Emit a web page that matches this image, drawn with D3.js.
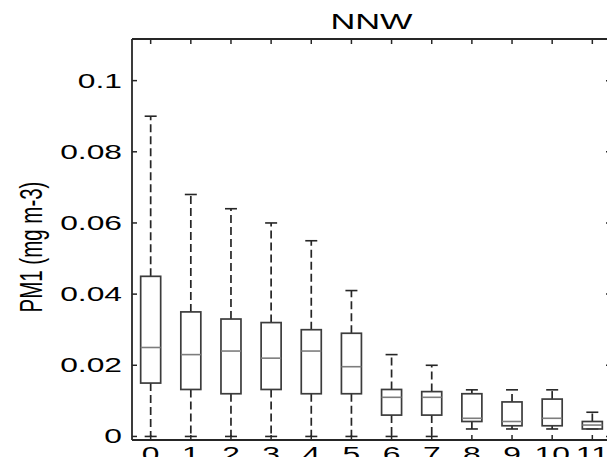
<!DOCTYPE html>
<html>
<head>
<meta charset="utf-8">
<script src="https://cdn.jsdelivr.net/npm/d3@7"></script>
<style>
  body { margin: 0; background: #fff; }
  svg { display: block; }
  text { font-family: "Liberation Sans", Arial, sans-serif; fill: #000; }
</style>
</head>
<body>
<svg id="chart" width="607" height="457"></svg>
<script>
// Box statistics per category (PM1, mg m-3)
var cats    = ["0","1","2","3","4","5","6","7","8","9","10","11"];
var upper   = [0.090, 0.068, 0.064, 0.060, 0.055, 0.041, 0.023, 0.020, 0.0131, 0.0131, 0.0131, 0.0068];
var q3      = [0.045, 0.035, 0.033, 0.032, 0.030, 0.029, 0.0132, 0.0126, 0.0120, 0.0097, 0.0105, 0.0042];
var median  = [0.025, 0.023, 0.024, 0.022, 0.024, 0.0196, 0.0110, 0.0110, 0.0051, 0.0042, 0.0051, 0.0032];
var q1      = [0.015, 0.0132, 0.0120, 0.0132, 0.0120, 0.0120, 0.0060, 0.0060, 0.0042, 0.0030, 0.0030, 0.0021];
var lower   = [0, 0, 0, 0, 0, 0, 0, 0, 0.0021, 0.0021, 0.0021, 0.0021];
var yTicks  = [0, 0.02, 0.04, 0.06, 0.08, 0.1];
var yTickLabels = ["0", "0.02", "0.04", "0.06", "0.08", "0.1"];

var svg = d3.select("#chart"),
  width = +svg.attr("width"),
  height = +svg.attr("height");

// axes box (right edge falls just outside the picture)
var axL = 132, axR = 611, axT = 39, axB = 440;
var sx = 1.55; // the original picture is stretched sideways
var fs = "20.5px";

var x = d3.scaleLinear().domain([-0.465, 11.465]).range([axL, axR]);
var y = d3.scaleLinear().domain([-0.0010, 0.1117]).range([axB, axT]);

var ink = "#262626";
var boxW = 20, capW = 12, tickLen = 5;

svg.append("rect").attr("width", width).attr("height", height).attr("fill", "#fff");

var g = svg.append("g");

cats.forEach(function(c, i) {
  var cx = x(i);
  // whiskers (dashed)
  g.append("line")
    .attr("x1", cx).attr("x2", cx)
    .attr("y1", y(q3[i])).attr("y2", y(upper[i]))
    .attr("stroke", ink).attr("stroke-width", 1.7)
    .attr("stroke-dasharray", "8,4");
  g.append("line")
    .attr("x1", cx).attr("x2", cx)
    .attr("y1", y(q1[i])).attr("y2", y(lower[i]))
    .attr("stroke", ink).attr("stroke-width", 1.7)
    .attr("stroke-dasharray", "8,4");
  // caps
  [upper[i], lower[i]].forEach(function(v) {
    g.append("line")
      .attr("x1", cx - capW / 2).attr("x2", cx + capW / 2)
      .attr("y1", y(v)).attr("y2", y(v))
      .attr("stroke", ink).attr("stroke-width", 1.6);
  });
  // box
  g.append("rect")
    .attr("x", cx - boxW / 2).attr("width", boxW)
    .attr("y", y(q3[i])).attr("height", y(q1[i]) - y(q3[i]))
    .attr("fill", "none").attr("stroke", "#3c3c3c").attr("stroke-width", 1.7);
  // median
  g.append("line")
    .attr("x1", cx - boxW / 2).attr("x2", cx + boxW / 2)
    .attr("y1", y(median[i])).attr("y2", y(median[i]))
    .attr("stroke", "#7d7d7d").attr("stroke-width", 1.6);
});

// axes frame
var frame = svg.append("g").attr("stroke", ink).attr("stroke-width", 1.8);
frame.append("line").attr("x1", axL).attr("x2", axL).attr("y1", axT).attr("y2", axB);
frame.append("line").attr("x1", axR).attr("x2", axR).attr("y1", axT).attr("y2", axB);
frame.append("line").attr("x1", axL).attr("x2", axR).attr("y1", axT).attr("y2", axT);
frame.append("line").attr("x1", axL).attr("x2", axR).attr("y1", axB).attr("y2", axB);

// inward ticks
var ticks = svg.append("g").attr("stroke", ink).attr("stroke-width", 1.5);
cats.forEach(function(c, i) {
  ticks.append("line").attr("x1", x(i)).attr("x2", x(i)).attr("y1", axT).attr("y2", axT + tickLen);
  ticks.append("line").attr("x1", x(i)).attr("x2", x(i)).attr("y1", axB).attr("y2", axB - tickLen);
});
yTicks.forEach(function(v) {
  ticks.append("line").attr("x1", axL).attr("x2", axL + tickLen).attr("y1", y(v)).attr("y2", y(v));
  ticks.append("line").attr("x1", axR).attr("x2", axR - tickLen).attr("y1", y(v)).attr("y2", y(v));
});

// tick labels
yTicks.forEach(function(v, i) {
  svg.append("text")
    .attr("transform", "translate(" + (axL - 10) + "," + (y(v) + 7) + ") scale(" + sx + ",1)")
    .attr("text-anchor", "end")
    .style("font-size", fs)
    .text(yTickLabels[i]);
});
cats.forEach(function(c, i) {
  svg.append("text")
    .attr("transform", "translate(" + x(i) + ",461) scale(" + sx + ",1)")
    .attr("text-anchor", "middle")
    .style("font-size", fs)
    .text(c);
});

// title
svg.append("text")
  .attr("transform", "translate(" + ((axL + axR) / 2) + ",29) scale(1.6,1)")
  .attr("text-anchor", "middle")
  .style("font-size", "21.5px")
  .text("NNW");

// y label
svg.append("text")
  .attr("transform", "translate(42,247) scale(" + sx + ",1) rotate(-90)")
  .attr("text-anchor", "middle")
  .style("font-size", fs)
  .text("PM1 (mg m-3)");
</script>
</body>
</html>
